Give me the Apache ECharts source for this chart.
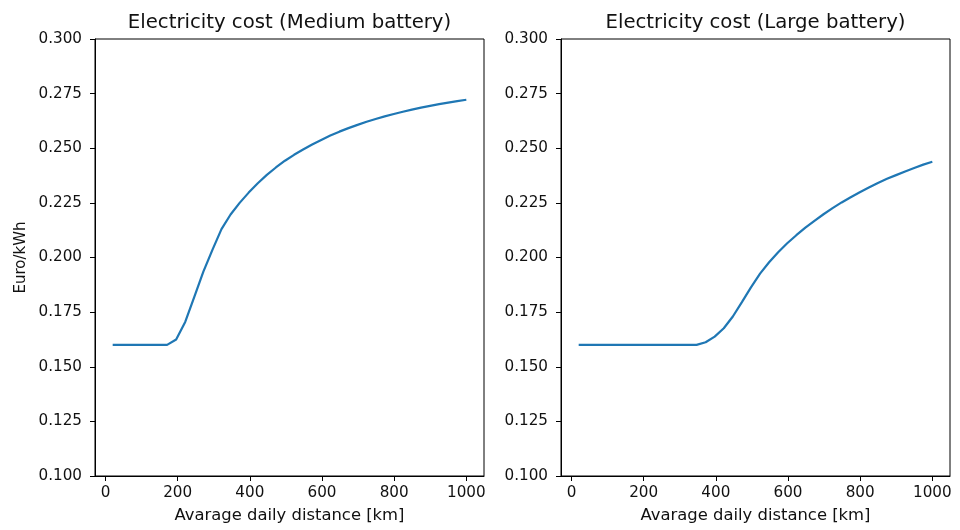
<!DOCTYPE html>
<html>
<head>
<meta charset="utf-8">
<script src="https://cdn.jsdelivr.net/npm/echarts@6/dist/echarts.min.js"></script>
<style>html,body{margin:0;padding:0;background:#fff}#c{width:960px;height:530px}</style>
</head>
<body>
<div id="c"></div>
<script>
// Average daily distance [km]
const distance = [20, 45.1, 70.3, 95.4, 120.5, 145.6, 170.8, 195.9, 221.0, 246.2,
  271.3, 296.4, 321.5, 346.7, 371.8, 396.9, 422.1, 447.2, 472.3, 497.4,
  522.6, 547.7, 572.8, 597.9, 623.1, 648.2, 673.3, 698.5, 723.6, 748.7,
  773.8, 799.0, 824.1, 849.2, 874.4, 899.5, 924.6, 949.7, 974.9, 1000];
// Euro/kWh, medium battery
const costMedium = [0.160, 0.160, 0.160, 0.160, 0.160, 0.160, 0.160, 0.1625, 0.1705, 0.1820,
  0.1935, 0.2035, 0.2130, 0.2197, 0.2250, 0.2297, 0.2340, 0.2378, 0.2412, 0.2443,
  0.2470, 0.2494, 0.2517, 0.2538, 0.2558, 0.2576, 0.2592, 0.2607, 0.2621, 0.2634,
  0.2646, 0.2657, 0.2667, 0.2677, 0.2686, 0.2694, 0.2702, 0.2709, 0.2716, 0.2722];
// Euro/kWh, large battery
const costLarge = [0.160, 0.160, 0.160, 0.160, 0.160, 0.160, 0.160, 0.160, 0.160, 0.160,
  0.160, 0.160, 0.160, 0.160, 0.1612, 0.1638, 0.1676, 0.1730, 0.1796, 0.1863,
  0.1926, 0.1978, 0.2024, 0.2065, 0.2102, 0.2137, 0.2168, 0.2198, 0.2226, 0.2252,
  0.2276, 0.2299, 0.2320, 0.2341, 0.2360, 0.2377, 0.2394, 0.2410, 0.2425, 0.2438];
const xTicks = [0, 200, 400, 600, 800, 1000];
const titles = ['Electricity cost (Medium battery)', 'Electricity cost (Large battery)'];
const xName = 'Avarage daily distance [km]';
const yName = 'Euro/kWh';

const FONT = 'DejaVu Sans';
const TXT = '#111';
const chart = echarts.init(document.getElementById('c'), null, {renderer: 'canvas'});

function xAxis(gi) {
  return {
    type: 'value', gridIndex: gi, min: -29, max: 1049,
    name: xName, nameLocation: 'middle', nameGap: 32,
    nameTextStyle: {fontFamily: FONT, fontSize: 16.4, color: TXT},
    axisLine: {show: true, onZero: false, lineStyle: {color: '#000', width: 1}},
    axisTick: {show: true, length: 5, inside: false, customValues: xTicks, lineStyle: {color: '#000', width: 1}},
    axisLabel: {show: true, customValues: xTicks, margin: 10, fontFamily: FONT, fontSize: 15.2, color: TXT,
      formatter: v => String(v)},
    splitLine: {show: false}
  };
}
function yAxis(gi, withName) {
  return {
    type: 'value', gridIndex: gi, min: 0.1, max: 0.3, interval: 0.025,
    name: withName ? yName : '', nameLocation: 'middle', nameGap: 66,
    nameTextStyle: {fontFamily: FONT, fontSize: 15, color: TXT},
    axisLine: {show: true, onZero: false, lineStyle: {color: '#000', width: 1}},
    axisTick: {show: true, length: 5, inside: false, lineStyle: {color: '#000', width: 1}},
    axisLabel: {show: true, margin: 13, fontFamily: FONT, fontSize: 15.2, color: TXT,
      formatter: v => v.toFixed(3)},
    splitLine: {show: false}
  };
}

chart.setOption({
  animation: false,
  backgroundColor: '#fff',
  title: [
    {text: titles[0], left: 284.5, top: 8, textAlign: 'center',
     textStyle: {fontFamily: FONT, fontSize: 19.7, fontWeight: 'normal', color: TXT}},
    {text: titles[1], left: 750.5, top: 8, textAlign: 'center',
     textStyle: {fontFamily: FONT, fontSize: 19.7, fontWeight: 'normal', color: TXT}}
  ],
  grid: [
    {left: 95, right: 476, top: 39, bottom: 54, show: true, borderColor: '#000', borderWidth: 1, containLabel: false},
    {left: 561, right: 10, top: 39, bottom: 54, show: true, borderColor: '#000', borderWidth: 1, containLabel: false}
  ],
  xAxis: [xAxis(0), xAxis(1)],
  yAxis: [yAxis(0, true), yAxis(1, false)],
  series: [
    {type: 'line', xAxisIndex: 0, yAxisIndex: 0, showSymbol: false, symbol: 'none',
     data: distance.map((d, i) => [d, costMedium[i]]),
     lineStyle: {color: '#1f77b4', width: 2.2}},
    {type: 'line', xAxisIndex: 1, yAxisIndex: 1, showSymbol: false, symbol: 'none',
     data: distance.map((d, i) => [d, costLarge[i]]),
     lineStyle: {color: '#1f77b4', width: 2.2}}
  ]
});
</script>
</body>
</html>
